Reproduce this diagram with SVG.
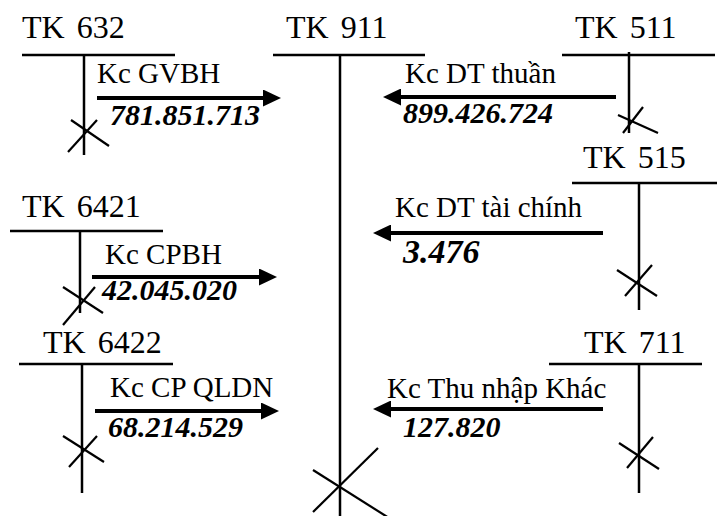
<svg xmlns="http://www.w3.org/2000/svg" width="717" height="516" viewBox="0 0 717 516">
  <style>
    text { font-family: 'Liberation Serif', 'Times New Roman', serif; fill: #000; }
    .acct { font-size: 32px; word-spacing: 4px; }
    .lbl { font-size: 29px; }
    .amt { font-size: 30px; font-weight: bold; font-style: italic; }
    .big { font-size: 34px; }
    .t { stroke: #000; stroke-width: 2.5; fill: none; }
    .x { stroke: #000; stroke-width: 2.2; fill: none; }
    .flow { stroke: #000; stroke-width: 4; fill: none; marker-end: url(#head); }
  </style>
  <defs>
    <marker id="head" markerUnits="userSpaceOnUse" markerWidth="18" markerHeight="17" refX="8" refY="8.5" orient="auto">
      <path d="M0,0 L18,8.5 L0,17 Z" fill="#000"/>
    </marker>
  </defs>

  <rect width="717" height="516" fill="#fff"/>

  <!-- TK 632 -->
  <g id="tk632">
    <text class="acct" x="22" y="38">TK 632</text>
    <line class="t" x1="22" y1="55" x2="175" y2="55"/>
    <line class="t" x1="84" y1="55" x2="84" y2="155"/>
    <line class="x" x1="68" y1="152" x2="97" y2="120"/>
    <line class="x" x1="71" y1="120" x2="109" y2="146"/>
  </g>

  <!-- TK 911 -->
  <g id="tk911">
    <text class="acct" x="286" y="38">TK 911</text>
    <line class="t" x1="273" y1="55" x2="425" y2="55"/>
    <line class="t" x1="340" y1="55" x2="340" y2="516"/>
    <line class="x" x1="313" y1="512" x2="378" y2="448"/>
    <line class="x" x1="313" y1="470" x2="389" y2="518"/>
  </g>

  <!-- TK 511 -->
  <g id="tk511">
    <text class="acct" x="575" y="38">TK 511</text>
    <line class="t" x1="562" y1="55" x2="715" y2="55"/>
    <line class="t" x1="629" y1="52" x2="629" y2="133"/>
    <line class="x" x1="618" y1="115" x2="658" y2="133"/>
    <line class="x" x1="623" y1="133" x2="643" y2="107"/>
  </g>

  <!-- TK 515 -->
  <g id="tk515">
    <text class="acct" x="583" y="168">TK 515</text>
    <line class="t" x1="572" y1="183" x2="717" y2="183"/>
    <line class="t" x1="639" y1="183" x2="639" y2="310"/>
    <line class="x" x1="617" y1="270" x2="657" y2="296"/>
    <line class="x" x1="625" y1="296" x2="652" y2="265"/>
  </g>

  <!-- TK 6421 -->
  <g id="tk6421">
    <text class="acct" x="22" y="217">TK 6421</text>
    <line class="t" x1="10" y1="231" x2="163" y2="231"/>
    <line class="t" x1="80" y1="231" x2="80" y2="313"/>
    <line class="x" x1="63" y1="287" x2="103" y2="313"/>
    <line class="x" x1="63" y1="325" x2="95" y2="287"/>
  </g>

  <!-- TK 6422 -->
  <g id="tk6422">
    <text class="acct" x="43" y="353">TK 6422</text>
    <line class="t" x1="19" y1="364" x2="173" y2="364"/>
    <line class="t" x1="82" y1="364" x2="82" y2="493"/>
    <line class="x" x1="63" y1="436" x2="104" y2="462"/>
    <line class="x" x1="69" y1="467" x2="97" y2="436"/>
  </g>

  <!-- TK 711 -->
  <g id="tk711">
    <text class="acct" x="584" y="353">TK 711</text>
    <line class="t" x1="549" y1="364" x2="702" y2="364"/>
    <line class="t" x1="639" y1="364" x2="639" y2="493"/>
    <line class="x" x1="619" y1="443" x2="659" y2="469"/>
    <line class="x" x1="627" y1="468" x2="653" y2="437"/>
  </g>

  <!-- transfers into TK 911 -->
  <g id="connectors">
    <line class="flow" x1="97" y1="98" x2="271" y2="98"/>
    <line class="flow" x1="616" y1="97" x2="393" y2="97"/>
    <line class="flow" x1="603" y1="233" x2="383" y2="233"/>
    <line class="flow" x1="92" y1="277" x2="267" y2="277"/>
    <line class="flow" x1="95" y1="411" x2="269" y2="411"/>
    <line class="flow" x1="603" y1="409" x2="383" y2="409"/>
  </g>

  <g id="labels">
    <text class="lbl" x="97" y="83">Kc GVBH</text>
    <text class="amt" x="110" y="125">781.851.713</text>

    <text class="lbl" x="405" y="83">Kc DT thuần</text>
    <text class="amt" x="403" y="123">899.426.724</text>

    <text class="lbl" x="395" y="217">Kc DT tài chính</text>
    <text class="amt big" x="403" y="263">3.476</text>

    <text class="lbl" x="105" y="264">Kc CPBH</text>
    <text class="amt" x="102" y="300">42.045.020</text>

    <text class="lbl" x="110" y="397">Kc CP QLDN</text>
    <text class="amt" x="108" y="437">68.214.529</text>

    <text class="lbl" x="387" y="398">Kc Thu nhập Khác</text>
    <text class="amt" x="403" y="437">127.820</text>
  </g>
</svg>
